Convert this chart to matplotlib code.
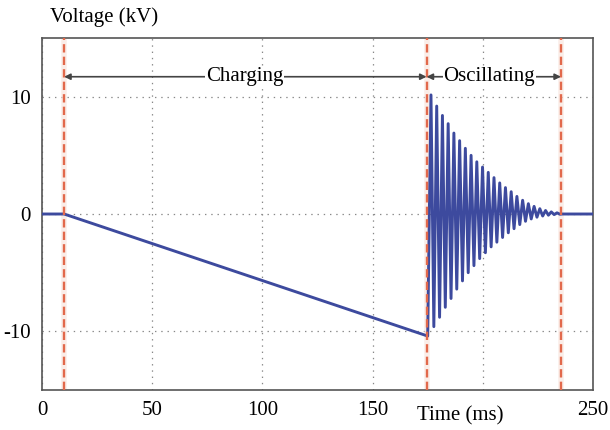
import numpy as np
import matplotlib
matplotlib.use("Agg")
import matplotlib.pyplot as plt

# charging ramp (ms, kV)
ramp_t = [0, 10, 175]
ramp_v = [0, 0, -10.4]

# damped oscillation: peak / trough values
osc_start = 176.5   # time of first peak (ms)
osc_period = 2.6    # ms
peaks = [10.15, 9.2, 8.4, 7.7, 6.9, 6.25, 5.6, 5.0, 4.45, 4.0, 3.55, 3.1,
         2.65, 2.25, 1.9, 1.5, 1.17, 0.88, 0.65, 0.45, 0.3, 0.18, 0.1]
troughs = [-9.6, -8.8, -7.95, -7.2, -6.4, -5.7, -5.0, -4.4, -3.8, -3.3, -2.8,
           -2.4, -2.0, -1.6, -1.25, -0.9, -0.62, -0.42, -0.27, -0.17, -0.1,
           -0.05, -0.02]
end_t = [236, 250]
end_v = [0, 0]

phase_lines = [10, 174.5, 235.5]
phases = ["Charging", "Oscillating"]
xticks = [0, 50, 100, 150, 250]
yticks = [-10, 0, 10]

plt.rcParams['font.family'] = ['Liberation Serif', 'DejaVu Serif']
plt.rcParams['lines.scale_dashes'] = False

# interleave peaks and troughs
osc_t, osc_v = [], []
for i, (p, q) in enumerate(zip(peaks, troughs)):
    osc_t += [osc_start + i * osc_period, osc_start + (i + 0.5) * osc_period]
    osc_v += [p, q]
t = np.array(ramp_t + osc_t + end_t)
v = np.array(ramp_v + osc_v + end_v)

fig = plt.figure(figsize=(6.1, 4.3), dpi=100)
ax = fig.add_axes([0.069, 0.093, 0.903, 0.8186])

ax.plot(t, v, color='#3d4a9e', lw=2.1, zorder=3)

for x in phase_lines:
    ax.axvline(x, color='#f8e2da', lw=4, alpha=0.6, zorder=2)
    ax.axvline(x, color='#e2694c', lw=1.7, dashes=(6, 3), zorder=4)

# phase arrows
arrow_y = 11.7
for (x0, x1), name in zip(zip(phase_lines[:-1], phase_lines[1:]), phases):
    ax.annotate('', xy=(x0, arrow_y), xytext=(x1, arrow_y),
                arrowprops=dict(arrowstyle='<|-|>', color='#444444', lw=1.2,
                                mutation_scale=9, shrinkA=0, shrinkB=0),
                zorder=5)
    xc = 92 if name == "Charging" else 203
    ax.text(xc, arrow_y, name, ha='center', va='center', fontsize=15,
            bbox=dict(facecolor='white', edgecolor='none', pad=0.5), zorder=6)

ax.set_xlim(0, 250)
ax.set_ylim(-15, 15)
ax.set_xticks(xticks)
ax.set_yticks(yticks)
ax.set_xticks([200], minor=True)
ax.set_yticklabels(['-10', '0', '10'])
ax.tick_params(length=0, labelsize=15, pad=8)
ax.tick_params(which='minor', length=0)
dotted = dict(linestyle=(0, (1, 3.5)), color='#888888', lw=0.9)
ax.grid(True, which='both', **dotted)
for s in ax.spines.values():
    s.set_color('#555555')
    s.set_linewidth(1.2)

fig.text(50 / 610, 0.96, 'Voltage (kV)', fontsize=15, ha='left', va='center')
ax.text(190, -16.4, 'Time (ms)', fontsize=15, ha='center', va='top')

fig.savefig('out.png', dpi=100)
